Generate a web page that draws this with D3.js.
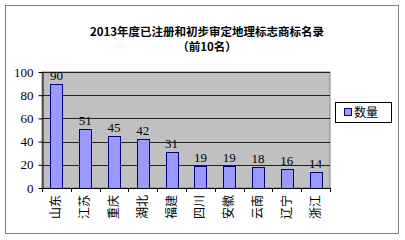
<!DOCTYPE html>
<html><head><meta charset="utf-8">
<script src="https://cdn.jsdelivr.net/npm/d3@7"></script>
<style>body{margin:0;background:#fff}svg{display:block}</style>
</head><body>
<script>
const categories = ["山东","江苏","重庆","湖北","福建","四川","安徽","云南","辽宁","浙江"];
const values = [90,51,45,42,31,19,19,18,16,14];
const yTicks = [0,20,40,60,80,100];
const seriesName = "数量";
const titleLines = ["2013年度已注册和初步审定地理标志商标名录","（前10名）"];

const W=405,H=240;
const svg=d3.select("body").append("svg").attr("width",W).attr("height",H);
svg.append("rect").attr("x",5.5).attr("y",5.5).attr("width",393).attr("height",228)
  .attr("fill","#fff").attr("stroke","#808080");

const cjk="'Noto Sans CJK SC','Liberation Serif',serif";
const num="'Liberation Serif','DejaVu Serif',serif";

svg.selectAll("text.title").data(titleLines).join("text")
  .attr("x",207).attr("y",(d,i)=>36+i*15).attr("text-anchor","middle")
  .attr("font-family",cjk).attr("font-weight","bold").attr("font-size",11.5).attr("fill","#000")
  .text(d=>d);

const x=d3.scaleBand().domain(categories).range([42,330]).paddingInner(0.58).paddingOuter(0.29);
const y=d3.scaleLinear().domain([0,100]).range([188,72]);

svg.append("rect").attr("x",42).attr("y",72).attr("width",288).attr("height",116)
  .attr("fill","#c0c0c0").attr("stroke","#808080");

svg.selectAll("line.grid").data(yTicks.slice(1)).join("line")
  .attr("x1",42).attr("x2",330).attr("y1",d=>Math.round(y(d))+0.5).attr("y2",d=>Math.round(y(d))+0.5)
  .attr("stroke","#222").attr("stroke-width",1);

svg.selectAll("rect.bar").data(values).join("rect")
  .attr("x",(d,i)=>Math.round(x(categories[i]))+0.5).attr("width",Math.round(x.bandwidth()))
  .attr("y",d=>Math.round(y(d))+0.5).attr("height",d=>Math.round(y(0)-y(d)))
  .attr("fill","#9999ff").attr("stroke","#000080");

svg.selectAll("text.val").data(values).join("text")
  .attr("x",(d,i)=>x(categories[i])+x.bandwidth()/2).attr("y",d=>y(d)-4)
  .attr("text-anchor","middle").attr("font-family",num).attr("font-size",13).attr("fill","#000")
  .text(d=>d);

// y axis
const ya=svg.append("g").attr("transform","translate(42.5,0)")
  .call(d3.axisLeft(y).tickValues(yTicks).tickSize(4).tickSizeOuter(0));
ya.select(".domain").attr("stroke","#000");
ya.selectAll(".tick line").attr("stroke","#000");
ya.selectAll(".tick text").attr("font-family",num).attr("font-size",13).attr("fill","#000").attr("x",-9);

// x axis
svg.append("line").attr("x1",42).attr("x2",330).attr("y1",188.5).attr("y2",188.5).attr("stroke","#000");
svg.selectAll("line.xt").data(d3.range(categories.length+1)).join("line")
  .attr("x1",i=>Math.round(42+i*288/categories.length)+0.5).attr("x2",i=>Math.round(42+i*288/categories.length)+0.5)
  .attr("y1",188).attr("y2",192).attr("stroke","#000");

svg.selectAll("text.cat").data(categories).join("text")
  .attr("transform",d=>`translate(${x(d)+x.bandwidth()/2+4},195) rotate(-90)`)
  .attr("text-anchor","end").attr("font-family",cjk).attr("font-size",12).attr("fill","#000")
  .text(d=>d);

// legend
const lg=svg.append("g");
lg.append("rect").attr("x",335.5).attr("y",102.5).attr("width",56).attr("height",20).attr("fill","#fff").attr("stroke","#000");
lg.append("rect").attr("x",344.5).attr("y",108.5).attr("width",7).attr("height",7).attr("fill","#9999ff").attr("stroke","#000080");
lg.append("text").attr("x",354).attr("y",117).attr("font-family",cjk).attr("font-size",12).attr("fill","#000").text(seriesName);
</script>
</body></html>
